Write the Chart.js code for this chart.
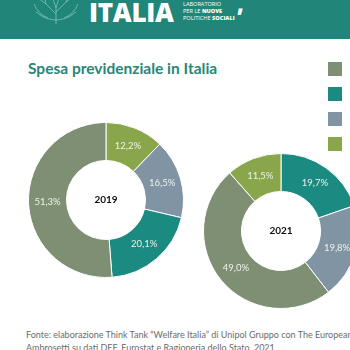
<!DOCTYPE html>
<html>
<head>
<meta charset="utf-8">
<script src="https://cdn.jsdelivr.net/npm/chart.js@4"></script>
<style>
  html, body { margin: 0; padding: 0; }
  body { width: 350px; height: 350px; overflow: hidden; position: relative; background: #fff; font-family: Lato, "Open Sans", sans-serif; }
  #header { position: absolute; left: 0; top: 0; width: 350px; height: 39px; background: #1f8679; }
  #logo { position: absolute; left: 89px; top: -6px; color: #fff; font: 900 26px "Open Sans", Lato, sans-serif; letter-spacing: -0.3px; }
  #sub { position: absolute; left: 183px; top: 1px; color: #fff; font: 5.6px/7px "Open Sans", sans-serif; }
  #sub b { font-weight: 800; }
  #comma { position: absolute; left: 237px; top: -12px; color: #fff; font: 900 22px "Open Sans", sans-serif; }
  #leaf { position: absolute; left: 30px; top: -6px; width: 52px; height: 30px; }
  #title { position: absolute; left: 28px; top: 59px; color: #2a8577; font: 700 15.5px Lato, sans-serif; }
  .sq { position: absolute; left: 328px; width: 14px; height: 14px; }
  #footer { position: absolute; left: 26px; top: 328px; color: #6b6b6b; font: 9px/13px Lato, sans-serif; white-space: nowrap; }
  canvas { position: absolute; }
</style>
</head>
<body>
<div id="header"></div>
<svg id="leaf" viewBox="0 0 52 30">
  <g stroke="#9cd0c6" stroke-width="0.8" fill="none" opacity="0.8">
    <path d="M26 30 L26 14 M26 20 L16 10 M26 18 L36 8 M16 10 L8 4 M16 10 L14 2 M36 8 L44 2 M36 8 L38 0 M26 14 L22 2 M26 14 L30 1"/>
    <path d="M6 18 Q26 34 46 18 M4 10 Q8 20 18 24 M48 10 Q44 20 34 24"/>
  </g>
</svg>
<div id="logo">ITALIA</div>
<div id="sub">LABORATORIO<br>PER LE <b>NUOVE</b><br>POLITICHE <b>SOCIALI</b></div>
<div id="comma">,</div>
<div id="title">Spesa previdenziale in Italia</div>
<div id="legend"></div>
<canvas id="c2019" width="160" height="160" style="left:26px; top:120px;"></canvas>
<canvas id="c2021" width="160" height="160" style="left:201px; top:151px;"></canvas>
<div id="footer">Fonte: elaborazione Think Tank “Welfare Italia” di Unipol Gruppo con The European House - <br>Ambrosetti su dati DEF, Eurostat e Ragioneria dello Stato, 2021</div>
<script>
// categories in legend order (legend texts fall outside the picture)
const categories = ["Categoria 1", "Categoria 2", "Categoria 3", "Categoria 4"];
const categoryColors = ["#7f8f73", "#1b8a80", "#8094a4", "#8aa64b"];

// slices in drawing order, clockwise from 12 o'clock
const order2019 = [3, 2, 1, 0];
const values2019 = [12.2, 16.5, 20.1, 51.3];
const order2021 = [1, 2, 0, 3];
const values2021 = [19.7, 19.8, 49.0, 11.5];

// legend squares
const legendTops = [62, 87, 112, 137];
const legendBox = document.getElementById("legend");
categories.forEach((c, i) => {
    let d = document.createElement("div");
    d.className = "sq";
    d.title = c;
    d.style.top = legendTops[i] + "px";
    d.style.background = categoryColors[i];
    legendBox.appendChild(d);
});

// percent labels on slices + year in the hole
const sliceLabels = {
    id: "sliceLabels",
    afterDatasetsDraw(chart, args, opts) {
        const ctx = chart.ctx;
        const meta = chart.getDatasetMeta(0);
        ctx.save();
        ctx.textAlign = "center";
        ctx.textBaseline = "middle";
        ctx.fillStyle = "#eef2ea";
        ctx.font = "9.5px Lato, sans-serif";
        meta.data.forEach((arc, i) => {
            const p = arc.tooltipPosition();
            const v = chart.data.datasets[0].data[i];
            ctx.fillText(v.toFixed(1).replace(".", ",") + "%", p.x, p.y);
        });
        const c = meta.data[0];
        ctx.fillStyle = "#111";
        ctx.font = "bold 10px Lato, sans-serif";
        ctx.fillText(opts.year, c.x, c.y);
        ctx.restore();
    }
};

function makeDonut(id, year, order, values) {
    new Chart(document.getElementById(id), {
        type: "doughnut",
        data: {
            labels: order.map(i => categories[i]),
            datasets: [{
                data: values,
                backgroundColor: order.map(i => categoryColors[i]),
                borderColor: "#ffffff",
                borderWidth: 1
            }]
        },
        options: {
            responsive: false,
            animation: false,
            cutout: "51%",
            layout: { padding: 2 },
            plugins: {
                legend: { display: false },
                tooltip: { enabled: false },
                sliceLabels: { year: year }
            }
        },
        plugins: [sliceLabels]
    });
}

makeDonut("c2019", "2019", order2019, values2019);
makeDonut("c2021", "2021", order2021, values2021);
</script>
</body>
</html>
